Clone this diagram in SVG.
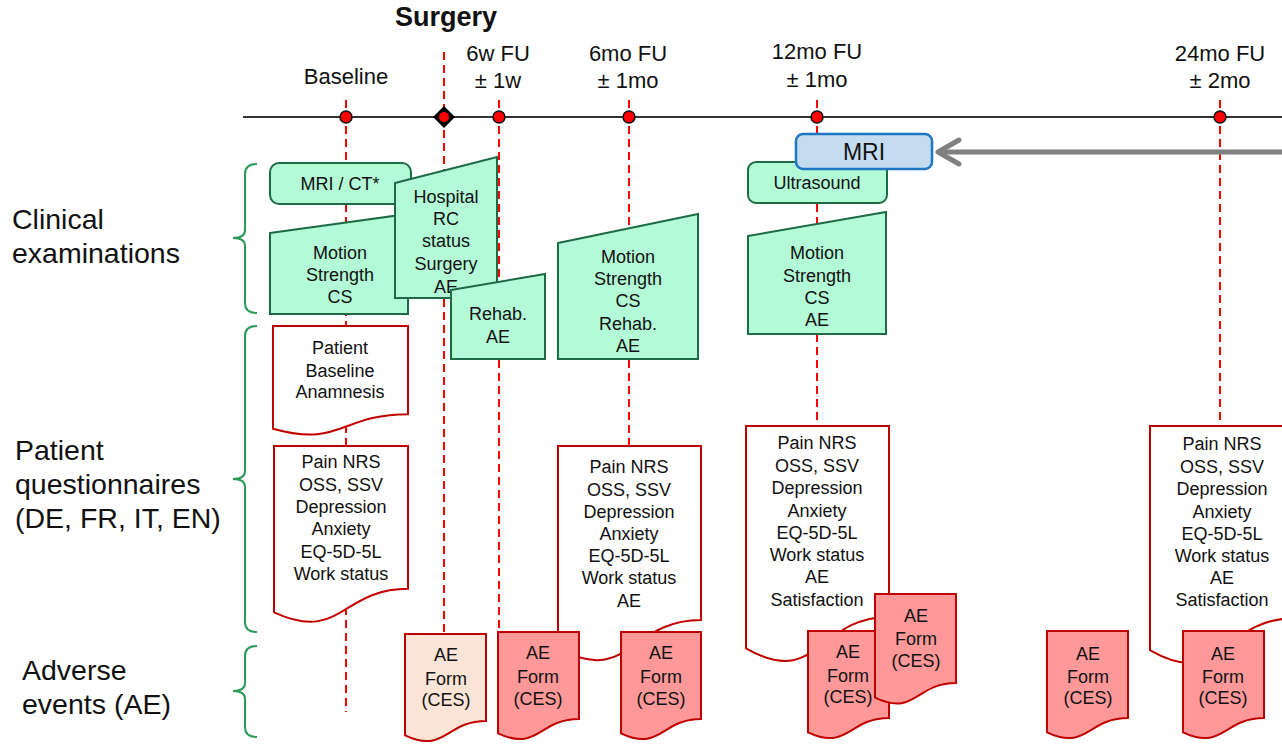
<svg xmlns="http://www.w3.org/2000/svg" width="1282" height="744" viewBox="0 0 1282 744">
<style>
.t{font-family:"Liberation Sans",Arial,sans-serif;font-size:18px;text-anchor:middle;fill:#111}
.lbl{font-family:"Liberation Sans",Arial,sans-serif;font-size:22px;text-anchor:middle;fill:#111}
.side{font-family:"Liberation Sans",Arial,sans-serif;font-size:28.5px;fill:#111}
.g{fill:#b3fad6;stroke:#1d6b45;stroke-width:2}
.doc{fill:#fff;stroke:#c00000;stroke-width:2}
.ae{fill:#ff9999;stroke:#c00000;stroke-width:2}
.ae0{fill:#fce4d6;stroke:#c00000;stroke-width:2}
.dash{stroke:#f00;stroke-width:2;stroke-dasharray:8 5;fill:none}
.brace{fill:none;stroke:#2e9a5a;stroke-width:2}
.dot{fill:#f00;stroke:#111;stroke-width:1.5}
</style>
<defs>
<marker id="chev" viewBox="-26 -15 30 30" markerWidth="30" markerHeight="30" refX="0" refY="0" orient="auto" markerUnits="userSpaceOnUse">
<path d="M-21,-12 L0,0 L-21,12" fill="none" stroke="#808080" stroke-width="5" stroke-linecap="round" stroke-linejoin="round"/>
</marker>
</defs>
<rect width="1282" height="744" fill="#fff"/>

<g id="section-labels">
<text class="side" x="12" y="229">Clinical</text>
<text class="side" x="12" y="263">examinations</text>
<text class="side" x="15" y="460">Patient</text>
<text class="side" x="15" y="494">questionnaires</text>
<text class="side" x="15" y="528">(DE, FR, IT, EN)</text>
<text class="side" x="22" y="680">Adverse</text>
<text class="side" x="22" y="714">events (AE)</text>
</g>

<g id="braces">
<path class="brace" d="M257,164 Q245,164 245,174 V230 Q245,238 233,238 Q245,238 245,246 V303 Q245,313 257,313"/>
<path class="brace" d="M257,326 Q245,326 245,336 V471 Q245,479 233,479 Q245,479 245,487 V622 Q245,632 257,632"/>
<path class="brace" d="M257,646 Q245,646 245,656 V683 Q245,691 233,691 Q245,691 245,699 V727 Q245,737 257,737"/>
</g>

<g id="connectors">
<line class="dash" x1="346" y1="100" x2="346" y2="712"/>
<line class="dash" x1="444" y1="52" x2="444" y2="634"/>
<line class="dash" x1="499" y1="100" x2="499" y2="632"/>
<line class="dash" x1="629" y1="100" x2="629" y2="446"/>
<line class="dash" x1="817" y1="100" x2="817" y2="426"/>
<line class="dash" x1="1220" y1="100" x2="1220" y2="426"/>
<line x1="243" y1="117" x2="1282" y2="117" stroke="#333" stroke-width="2"/>
<line x1="1282" y1="152" x2="938" y2="152" stroke="#808080" stroke-width="5" marker-end="url(#chev)"/>
</g>

<g id="timeline-labels">
<text x="446" y="26" font-family="Liberation Sans, Arial, sans-serif" font-size="27" font-weight="bold" text-anchor="middle" fill="#111">Surgery</text>
<text class="lbl" x="346" y="84">Baseline</text>
<text class="lbl" x="498" y="61">6w FU</text>
<text class="lbl" x="498" y="88">± 1w</text>
<text class="lbl" x="628" y="61">6mo FU</text>
<text class="lbl" x="628" y="88">± 1mo</text>
<text class="lbl" x="817" y="59">12mo FU</text>
<text class="lbl" x="817" y="87">± 1mo</text>
<text class="lbl" x="1220" y="61">24mo FU</text>
<text class="lbl" x="1220" y="88">± 2mo</text>
</g>

<g id="timepoints">
<circle class="dot" cx="346" cy="117" r="6"/>
<polygon points="433,117 444,106 455,117 444,128" fill="#000"/>
<circle cx="444" cy="117" r="5" fill="#f00"/>
<circle class="dot" cx="499" cy="117" r="6"/>
<circle class="dot" cx="629" cy="117" r="6"/>
<circle class="dot" cx="817" cy="117" r="6"/>
<circle class="dot" cx="1220" cy="117" r="6"/>
</g>

<g id="mri-ct">
<rect class="g" x="270" y="163" width="141" height="41" rx="9"/>
<text class="t" x="340" y="190">MRI / CT*</text>
</g>
<g id="baseline-exam">
<polygon class="g" points="270,233 408,214 408,314 270,314"/>
<text class="t" x="340" y="259">Motion</text>
<text class="t" x="340" y="281">Strength</text>
<text class="t" x="340" y="303">CS</text>
</g>
<g id="hospital">
<polygon class="g" points="395,183 497,157 497,298 395,298"/>
<text class="t" x="446" y="203">Hospital</text>
<text class="t" x="446" y="225">RC</text>
<text class="t" x="446" y="247">status</text>
<text class="t" x="446" y="270">Surgery</text>
<text class="t" x="446" y="293">AE</text>
</g>
<g id="rehab-6w">
<polygon class="g" points="451,290 545,274 545,359 451,359"/>
<text class="t" x="498" y="320">Rehab.</text>
<text class="t" x="498" y="343">AE</text>
</g>
<g id="exam-6mo">
<polygon class="g" points="558,243 698,214 698,359 558,359"/>
<text class="t" x="628" y="263">Motion</text>
<text class="t" x="628" y="285">Strength</text>
<text class="t" x="628" y="307">CS</text>
<text class="t" x="628" y="330">Rehab.</text>
<text class="t" x="628" y="352">AE</text>
</g>
<g id="ultrasound">
<rect class="g" x="748" y="162" width="139" height="41" rx="8"/>
<text class="t" x="817" y="189">Ultrasound</text>
</g>
<g id="mri-12mo">
<rect x="796" y="134" width="136" height="35" rx="7" fill="#c5dcf0" stroke="#1f77c4" stroke-width="2.5"/>
<text x="864" y="160" font-family="Liberation Sans, Arial, sans-serif" font-size="23" text-anchor="middle" fill="#111">MRI</text>
</g>
<g id="exam-12mo">
<polygon class="g" points="748,236 886,212 886,334 748,334"/>
<text class="t" x="817" y="259">Motion</text>
<text class="t" x="817" y="282">Strength</text>
<text class="t" x="817" y="304">CS</text>
<text class="t" x="817" y="326">AE</text>
</g>

<g id="anamnesis">
<path class="doc" d="M273,326 H408 V414.2 C340.5,414.2 340.5,447.8 273,428.7 Z"/>
<text class="t" x="340" y="354">Patient</text>
<text class="t" x="340" y="377">Baseline</text>
<text class="t" x="340" y="398">Anamnesis</text>
</g>
<g id="quest-baseline">
<path class="doc" d="M274,446 H408 V588.8 C341,588.8 341,643.1 274,612.3 Z"/>
<text class="t" x="341" y="468">Pain NRS</text>
<text class="t" x="341" y="491">OSS, SSV</text>
<text class="t" x="341" y="513">Depression</text>
<text class="t" x="341" y="535">Anxiety</text>
<text class="t" x="341" y="558">EQ-5D-5L</text>
<text class="t" x="341" y="580">Work status</text>
</g>
<g id="quest-6mo">
<path class="doc" d="M558,446 H701 V620 C629.5,620 629.5,686.3 558,648.7 Z"/>
<text class="t" x="629" y="473">Pain NRS</text>
<text class="t" x="629" y="496">OSS, SSV</text>
<text class="t" x="629" y="518">Depression</text>
<text class="t" x="629" y="540">Anxiety</text>
<text class="t" x="629" y="562">EQ-5D-5L</text>
<text class="t" x="629" y="584">Work status</text>
<text class="t" x="629" y="607">AE</text>
</g>
<g id="quest-12mo">
<path class="doc" d="M746,426 H889 V616.9 C817.5,616.9 817.5,689.6 746,648.3 Z"/>
<text class="t" x="817" y="449">Pain NRS</text>
<text class="t" x="817" y="472">OSS, SSV</text>
<text class="t" x="817" y="494">Depression</text>
<text class="t" x="817" y="517">Anxiety</text>
<text class="t" x="817" y="539">EQ-5D-5L</text>
<text class="t" x="817" y="561">Work status</text>
<text class="t" x="817" y="583">AE</text>
<text class="t" x="817" y="606">Satisfaction</text>
</g>
<g id="quest-24mo">
<path class="doc" d="M1150,426 H1293 V618.5 C1221.5,618.5 1221.5,691.8 1150,650.2 Z"/>
<text class="t" x="1222" y="450">Pain NRS</text>
<text class="t" x="1222" y="473">OSS, SSV</text>
<text class="t" x="1222" y="495">Depression</text>
<text class="t" x="1222" y="518">Anxiety</text>
<text class="t" x="1222" y="540">EQ-5D-5L</text>
<text class="t" x="1222" y="562">Work status</text>
<text class="t" x="1222" y="584">AE</text>
<text class="t" x="1222" y="606">Satisfaction</text>
</g>

<g id="ae-surgery">
<path class="ae0" d="M405,634 H486 V721 C445.5,721 445.5,754.2 405,735.3 Z"/>
<text class="t" x="446" y="661">AE</text>
<text class="t" x="446" y="685">Form</text>
<text class="t" x="446" y="706">(CES)</text>
</g>
<g id="ae-6w">
<path class="ae" d="M498,632 H579 V719 C538.5,719 538.5,752.2 498,733.3 Z"/>
<text class="t" x="538" y="659">AE</text>
<text class="t" x="538" y="683">Form</text>
<text class="t" x="538" y="705">(CES)</text>
</g>
<g id="ae-6mo">
<path class="ae" d="M621,632 H701 V719 C661,719 661,752.2 621,733.3 Z"/>
<text class="t" x="661" y="659">AE</text>
<text class="t" x="661" y="683">Form</text>
<text class="t" x="661" y="705">(CES)</text>
</g>
<g id="ae-12mo-a">
<path class="ae" d="M808,631 H889 V718 C848.5,718 848.5,751.2 808,732.3 Z"/>
<text class="t" x="848" y="658">AE</text>
<text class="t" x="848" y="682">Form</text>
<text class="t" x="848" y="703">(CES)</text>
</g>
<g id="ae-12mo-b">
<path class="ae" d="M875,594 H956 V683 C915.5,683 915.5,716.9 875,697.7 Z"/>
<text class="t" x="916" y="622">AE</text>
<text class="t" x="916" y="645">Form</text>
<text class="t" x="916" y="667">(CES)</text>
</g>
<g id="ae-18mo">
<path class="ae" d="M1047,631 H1128 V718 C1087.5,718 1087.5,751.2 1047,732.3 Z"/>
<text class="t" x="1088" y="660">AE</text>
<text class="t" x="1088" y="683">Form</text>
<text class="t" x="1088" y="704">(CES)</text>
</g>
<g id="ae-24mo">
<path class="ae" d="M1183,631 H1264 V718 C1223.5,718 1223.5,751.2 1183,732.3 Z"/>
<text class="t" x="1223" y="660">AE</text>
<text class="t" x="1223" y="683">Form</text>
<text class="t" x="1223" y="704">(CES)</text>
</g>
</svg>
